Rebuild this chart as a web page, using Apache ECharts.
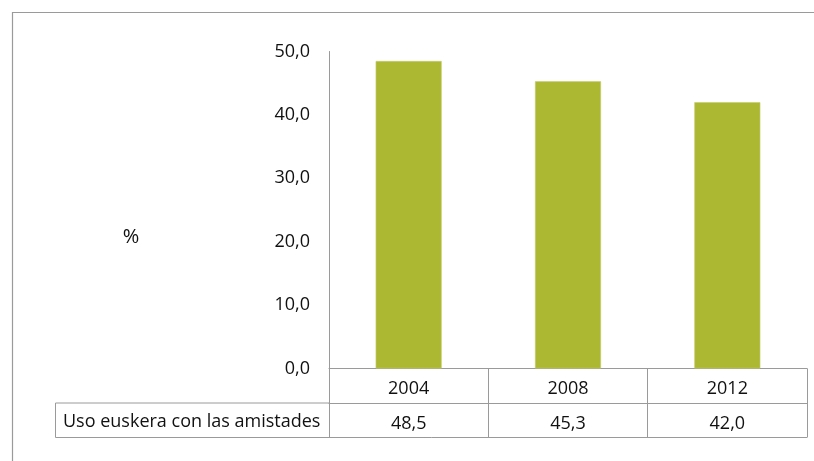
<!DOCTYPE html>
<html>
<head>
<meta charset="utf-8">
<script src="https://cdn.jsdelivr.net/npm/echarts@6/dist/echarts.min.js"></script>
<style>
  html, body { margin: 0; padding: 0; background: #fff; }
  #chart { width: 814px; height: 461px; }
</style>
</head>
<body>
<div id="chart"></div>
<script>
// Survey years and share of Basque use with friends (%)
const categories = ['2004', '2008', '2012'];
const values = [48.5, 45.3, 42.0];
const seriesName = 'Uso euskera con las amistades';
const axisUnit = '%';
const yMin = 0, yMax = 50, yStep = 10;

const FONT = 'Open Sans';
const FS = 18;
const LINE = '#9a9a9a';
const BAR = '#adb832';
const INK = '#111';

// plot area and data-table geometry
const gridLeft = 329, gridRight = 7, gridTop = 51.5, gridBottom = 92.5;
const rowH = 34.5;
const headerLeft = 55.5;

const fmt = v => Number(v).toFixed(1).replace('.', ',');

const chart = echarts.init(document.getElementById('chart'), null, { renderer: 'canvas' });

const W = 814, H = 461;
const axisY = H - gridBottom;
const row1Bottom = axisY + rowH;
const row2Bottom = axisY + 2 * rowH;
const plotRight = W - gridRight;

chart.setOption({
  animation: false,
  grid: { left: gridLeft, right: gridRight, top: gridTop, bottom: gridBottom },
  yAxis: {
    type: 'value',
    min: yMin, max: yMax, interval: yStep,
    axisLine: { show: true, lineStyle: { color: LINE, width: 1 } },
    axisTick: { show: false },
    splitLine: { show: false },
    axisLabel: { formatter: fmt, color: INK, fontSize: FS, fontFamily: FONT, margin: 19,
                 padding: [5, 0, 0, 0] }
  },
  xAxis: [
    {
      type: 'category',
      data: categories,
      position: 'bottom',
      axisLine: { show: true, lineStyle: { color: LINE, width: 1 } },
      axisTick: { show: true, length: 2 * rowH, interval: 0, lineStyle: { color: LINE, width: 1 } },
      axisLabel: { color: INK, fontSize: FS, fontFamily: FONT, margin: 11, interval: 0 }
    },
    {
      type: 'category',
      data: values.map(fmt),
      position: 'bottom',
      offset: rowH,
      axisLine: { show: true, lineStyle: { color: LINE, width: 1 } },
      axisTick: { show: false },
      axisLabel: { color: INK, fontSize: FS, fontFamily: FONT, margin: 12, interval: 0 }
    }
  ],
  series: [{
    name: seriesName,
    type: 'bar',
    xAxisIndex: 0,
    data: values,
    barWidth: 66,
    itemStyle: { color: BAR, borderColor: '#c4cd6e', borderWidth: 0.6 }
  }],
  graphic: [
    // outer chart frame
    { type: 'rect', shape: { x: 12.5, y: 12.5, width: 900, height: 600 },
      style: { fill: 'none', stroke: LINE, lineWidth: 1.2 }, silent: true },
    // value-axis unit
    { type: 'text', x: 131, y: 237,
      style: { text: axisUnit, fill: INK, font: '20px "' + FONT + '"', align: 'center', verticalAlign: 'middle' } },
    // series header cell of the data table
    { type: 'line', shape: { x1: headerLeft, y1: row1Bottom, x2: gridLeft, y2: row1Bottom },
      style: { stroke: LINE, lineWidth: 1 } },
    { type: 'line', shape: { x1: headerLeft, y1: row2Bottom, x2: plotRight, y2: row2Bottom },
      style: { stroke: LINE, lineWidth: 1 } },
    { type: 'line', shape: { x1: headerLeft, y1: row1Bottom, x2: headerLeft, y2: row2Bottom },
      style: { stroke: LINE, lineWidth: 1 } },
    { type: 'text', x: 63, y: (row1Bottom + row2Bottom) / 2 + 2,
      style: { text: seriesName, fill: INK, font: FS + 'px "' + FONT + '"', verticalAlign: 'middle' } }
  ]
});
</script>
</body>
</html>
